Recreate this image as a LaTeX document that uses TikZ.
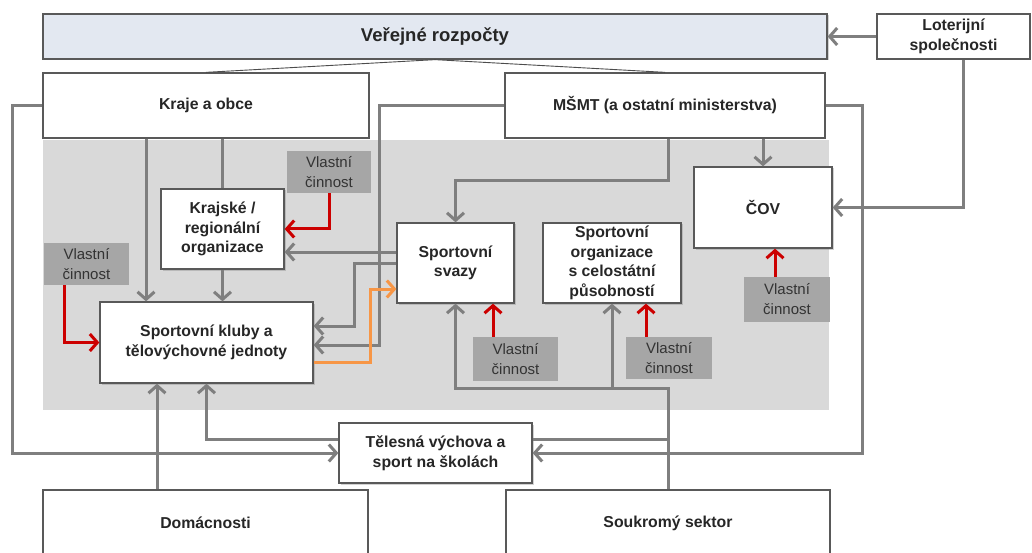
\documentclass[tikz,border=0pt]{standalone}
\usepackage{fontspec}
\setmainfont{Liberation Sans}
\usetikzlibrary{arrows.meta,calc,shadows}
\definecolor{linegray}{HTML}{7F7F7F}
\definecolor{boxborder}{HTML}{595959}
\definecolor{bggray}{HTML}{D9D9D9}
\definecolor{vcgray}{HTML}{A6A6A6}
\definecolor{verfill}{HTML}{E3E8F1}
\definecolor{redc}{HTML}{CC0000}
\definecolor{orangec}{HTML}{F79646}
\begin{document}
\begin{tikzpicture}[x=1pt,y=-1pt,
 box/.style={draw=boxborder,line width=1.3pt,fill=white,inner sep=1pt,align=center,
   font=\fontsize{15.8}{19.5}\selectfont\bfseries,text=black!85},
 shbox/.style={box,drop shadow={shadow xshift=1.5pt,shadow yshift=-1.5pt,opacity=0.35}},
 vcbox/.style={fill=vcgray,inner sep=0pt,align=center,font=\fontsize{15}{20}\selectfont,text=black!80},
 conn/.style={draw=linegray,line width=3pt},
 garr/.style={conn,-{Straight Barb[length=7.5pt,width=17pt]}},
 rarr/.style={draw=redc,line width=3pt,-{Straight Barb[length=7.5pt,width=17pt]}},
 oarr/.style={draw=orangec,line width=3pt,-{Straight Barb[length=7.5pt,width=17pt]}},
 thinline/.style={draw=black!70,line width=0.9pt}
]
\useasboundingbox (0,0) rectangle (1032,553);
\fill[white] (0,0) rectangle (1032,553);
\fill[bggray] (43,140) rectangle (829,410);

% nodes
\node[shbox,fill=verfill,minimum width=784pt,minimum height=45pt,font=\fontsize{18.5}{22}\selectfont\bfseries] (ver) at (435,36.5) {Veřejné rozpočty};
\node[box,minimum width=153pt,minimum height=45pt] (lot) at (953.5,36.5) {Loterijní\\společnosti};
\node[box,minimum width=326pt,minimum height=65pt] (kraje) at (206,105.5) {Kraje a obce};
\node[box,minimum width=320pt,minimum height=65pt] (msmt) at (665,105.5) {MŠMT (a ostatní ministerstva)};
\node[shbox,minimum width=123pt,minimum height=80pt] (krajske) at (222.5,229) {Krajské /\\regionální\\organizace};
\node[shbox,minimum width=117pt,minimum height=80pt] (svazy) at (455.5,263) {Sportovní\\svazy};
\node[shbox,minimum width=138pt,minimum height=80pt] (org) at (612,263) {Sportovní\\organizace\\s celostátní\\působností};
\node[shbox,minimum width=138pt,minimum height=81pt] (cov) at (763,207.5) {ČOV};
\node[shbox,minimum width=213pt,minimum height=81pt] (kluby) at (206.5,342.5) {Sportovní kluby a\\tělovýchovné jednoty};
\node[shbox,minimum width=193pt,minimum height=60pt] (tv) at (435.5,453) {Tělesná výchova a\\sport na školách};
\node[box,minimum width=325pt,minimum height=66pt] (dom) at (205.5,523) {Domácnosti};
\node[box,minimum width=324pt,minimum height=66pt] (souk) at (668,523) {Soukromý sektor};

\node[vcbox,minimum width=84pt,minimum height=42pt] (vc1) at (329,172) {Vlastní\\činnost};
\node[vcbox,minimum width=85pt,minimum height=42pt] (vc2) at (86.5,264) {Vlastní\\činnost};
\node[vcbox,minimum width=85pt,minimum height=44pt] (vc3) at (515.5,359) {Vlastní\\činnost};
\node[vcbox,minimum width=86pt,minimum height=42pt] (vc4) at (669,358) {Vlastní\\činnost};
\node[vcbox,minimum width=86pt,minimum height=45pt] (vc5) at (787,299.5) {Vlastní\\činnost};

% helper coordinates
\coordinate (c1) at (146,0);
\coordinate (c3) at (157,0);
\coordinate (r2) at (64,0);
\coordinate (r3) at (493,0);
\coordinate (r4) at (646,0);
\coordinate (r5) at (775,0);
\coordinate (ke1) at ($(kluby.east)+(0,-16.5)$);
\coordinate (ke2) at ($(kluby.east)+(0,2.5)$);
\coordinate (ke3) at ($(kluby.east)+(0,19.5)$);
\coordinate (sw1) at ($(svazy.west)+(0,-11)$);
\coordinate (sw3) at ($(svazy.west)+(0,26)$);
\coordinate (m1) at ($(msmt.south)+(3,0)$);
\coordinate (l1) at ($(lot.south)+(10,0)$);
\coordinate (tw1) at ($(tv.west)+(0,-14)$);
\coordinate (te1) at ($(tv.east)+(0,-14)$);
\coordinate (j) at ($(souk.north)+(0,-101)$);

% connectors
\draw[garr] (lot.west) -- (ver.east);
\draw[thinline] (ver.south) -- (kraje.north);
\draw[thinline] (ver.south) -- (msmt.north);
\draw[garr] (kraje.west) -- ++(-30,0) |- (tv.west);
\draw[garr] (c1 |- kraje.south) -- (c1 |- kluby.north);
\draw[conn] (krajske.north |- kraje.south) -- (krajske.north);
\draw[garr] (krajske.south) -- (krajske.south |- kluby.north);
\draw[garr] (msmt.west) -- ++(-125,0) |- (ke2);
\draw[garr] (sw1) -- (sw1 -| krajske.east);
\draw[garr] (svazy.west) -- ++(-42,0) |- (ke1);
\draw[oarr] (ke3) -- ++(57,0) |- (sw3);
\draw[garr] (m1) -- ++(0,42) -| (svazy.north);
\draw[garr] (cov.north |- msmt.south) -- (cov.north);
\draw[garr] (msmt.east) -- ++(37,0) |- (tv.east);
\draw[garr] (l1) |- (cov.east);
\draw[garr] (tw1) -| (kluby.south);
\draw[garr] (c3 |- dom.north) -- (c3 |- kluby.south);
\draw[garr] (souk.north) -- (j) -| (svazy.south);
\draw[garr] (org.south |- j) -- (org.south);
\draw[conn] (te1) -- (te1 -| souk.north);

% red arrows
\draw[rarr] (vc1.south) |- (krajske.east);
\draw[rarr] (r2 |- vc2.south) |- (kluby.west);
\draw[rarr] (r3 |- vc3.north) -- (r3 |- svazy.south);
\draw[rarr] (r4 |- vc4.north) -- (r4 |- org.south);
\draw[rarr] (r5 |- vc5.north) -- (r5 |- cov.south);
\end{tikzpicture}
\end{document}
